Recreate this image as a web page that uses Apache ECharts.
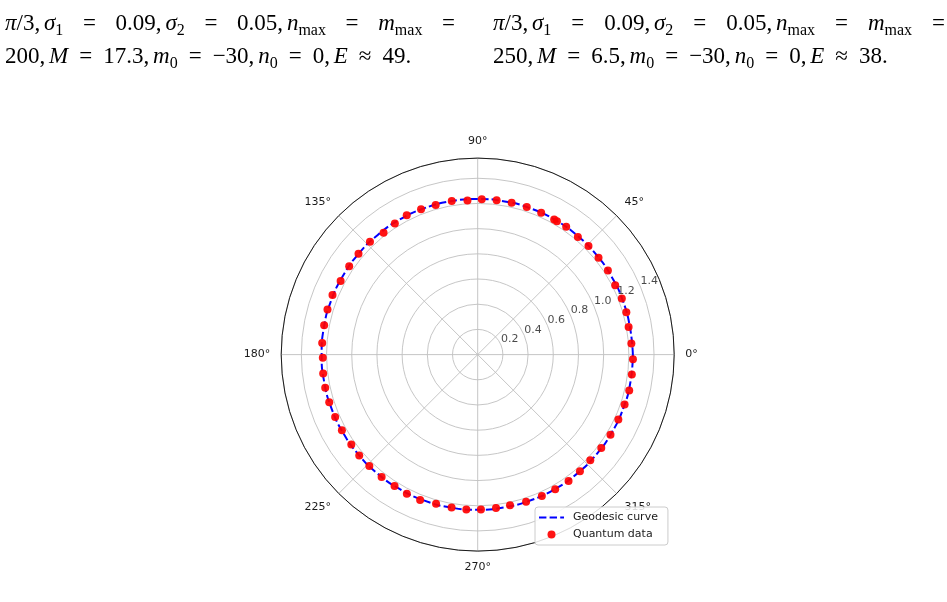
<!DOCTYPE html>
<html>
<head>
<meta charset="utf-8">
<script src="https://cdn.jsdelivr.net/npm/echarts@6/dist/echarts.min.js"></script>
<style>
html,body{margin:0;padding:0;background:#fff;}
#chart{width:947px;height:602px;}
</style>
</head>
<body>
<div id="chart"></div>
<script>
// ---------------- data ----------------
// Quantum data points: angle (degrees) and radius
const quantumAngles = [4.1,10.4,15.9,21.3,26.8,32.9,38.7,44.4,49.6,55.3,
  59.3,60.5,65.9,71.6,77.4,83.0,88.5,93.8,99.6,105.7,
  111.3,117.0,122.3,127.7,133.7,139.8,145.5,151.8,157.7,163.3,
  169.2,175.7,181.2,187.0,192.3,197.8,203.6,209.1,215.4,220.4,
  225.8,231.9,237.7,243.0,248.4,254.4,260.3,265.8,271.2,276.8,
  282.1,288.2,294.4,299.9,305.7,311.2,316.8,322.9,328.9,335.2,
  341.2,346.7,352.6,358.3];
const quantumRadii = [1.223,1.218,1.227,1.228,1.223,1.231,1.229,1.231,1.227,1.234,
  1.232,1.233,1.234,1.234,1.235,1.234,1.233,1.227,1.236,1.233,
  1.238,1.241,1.231,1.222,1.238,1.239,1.238,1.235,1.246,1.245,
  1.241,1.238,1.230,1.236,1.239,1.238,1.235,1.234,1.231,1.235,
  1.234,1.236,1.235,1.239,1.242,1.230,1.231,1.233,1.230,1.227,
  1.223,1.230,1.233,1.234,1.236,1.232,1.226,1.230,1.231,1.230,
  1.232,1.236,1.234,1.233];

// Geodesic curve samples: angle (degrees) and radius
const geoAngles = [0,10,20,30,40,50,60,70,80,90,100,110,120,130,140,150,160,170,180,
  190,200,210,220,230,240,250,260,270,280,290,300,310,320,330,340,350,360];
const geoRadii = [1.232,1.228,1.229,1.230,1.231,1.232,1.233,1.234,1.235,1.235,1.236,1.237,1.238,1.238,1.239,1.239,1.240,1.240,1.239,
  1.238,1.237,1.236,1.235,1.235,1.234,1.234,1.233,1.232,1.231,1.231,1.231,1.231,1.231,1.231,1.232,1.232,1.232];

// Axis ticks
const radialTicks = [0.2,0.4,0.6,0.8,1.0,1.2,1.4];
const radialLabelAngle = 22.5;
const angleTicks = [0,45,90,135,180,225,270,315];
const seriesNames = ['Geodesic curve','Quantum data'];

// ---------------- page text (paper excerpt) ----------------
const L1 = [['i','π'],['r','/3,'],['t'],['i','σ'],['s','1'],['q'],['r','='],['q'],['r','0.09,'],['t'],
  ['i','σ'],['s','2'],['q'],['r','='],['q'],['r','0.05,'],['t'],['i','n'],['s','max'],['q'],['r','='],['q'],
  ['i','m'],['s','max'],['q'],['r','=']];
const L2a = [['r','200,'],['t'],['i','M'],['q'],['r','='],['q'],['r','17.3,'],['t'],['i','m'],['s','0'],['q'],['r','='],['q'],
  ['r','−30,'],['t'],['i','n'],['s','0'],['q'],['r','='],['q'],['r','0,'],['t'],['i','E'],['q'],['r','≈'],['q'],['r','49.']];
const L2b = [['r','250,'],['t'],['i','M'],['q'],['r','='],['q'],['r','6.5,'],['t'],['i','m'],['s','0'],['q'],['r','='],['q'],
  ['r','−30,'],['t'],['i','n'],['s','0'],['q'],['r','='],['q'],['r','0,'],['t'],['i','E'],['q'],['r','≈'],['q'],['r','38.']];

const FS = 23, SFS = 16, SX = 1.0;
const FONTS = {
  r: FS + 'px "Liberation Serif"',
  i: 'italic ' + FS + 'px "Liberation Serif"',
  s: SFS + 'px "Liberation Serif"'
};
const THIN = FS*3/18;
const cv = document.createElement('canvas');
const cx = cv.getContext('2d');
function measure(font, t){ cx.font = font; return cx.measureText(t).width; }
function stats(toks){
  let glyph = 0, thin = 0, nRel = 0;
  toks.forEach(tk => {
    if (tk[0]==='t') thin += THIN;
    else if (tk[0]==='q') nRel++;
    else glyph += measure(FONTS[tk[0]], tk[1]) * SX;
  });
  return {glyph, thin, nRel};
}
function relFor(toks, width){
  const s = stats(toks);
  return Math.max(1.5, (width - s.glyph - s.thin) / s.nRel);
}
// natural relation space, taken from the last (unjustified) line
const REL_NAT = Math.min(relFor(L2a, 418), 11);

function layoutLine(toks, x0, relW, base){
  const els = [];
  let x = x0;
  toks.forEach(tk => {
    if (tk[0]==='t'){ x += THIN; return; }
    if (tk[0]==='q'){ x += relW; return; }
    const font = FONTS[tk[0]];
    const w = measure(font, tk[1]) * SX;
    const y = tk[0]==='s' ? base + 4 - SFS*0.34 : base - FS*0.34;
    els.push({type:'text', x:x, y:y, scaleX:SX, silent:true,
      style:{text:tk[1], font:font, fill:'#000', align:'left', verticalAlign:'middle'}});
    x += w;
  });
  return els;
}
const graphicEls = [].concat(
  layoutLine(L1, 5, relFor(L1, 450), 32),
  layoutLine(L2a, 5, REL_NAT, 65),
  layoutLine(L1, 493, relFor(L1, 452), 32),
  layoutLine(L2b, 493, REL_NAT, 65)
);

// ---------------- chart ----------------
const quantumData = quantumAngles.map((a,i) => [quantumRadii[i], a]);
const geoData = geoAngles.map((a,i) => [geoRadii[i], a]);
const labelData = radialTicks.map(r => [r, radialLabelAngle]);

const chart = echarts.init(document.getElementById('chart'), null, {renderer:'canvas'});
const TXT = {fontFamily:'DejaVu Sans', fontSize:11, color:'#1a1a1a'};

chart.setOption({
  animation:false,
  backgroundColor:'#fff',
  graphic: graphicEls,
  polar: {center:[477.7, 354.6], radius:196.5},
  angleAxis: {
    type:'value', min:0, max:360, interval:45, startAngle:0, clockwise:false,
    axisLine:{show:true, lineStyle:{color:'#1a1a1a', width:1}},
    axisTick:{show:false},
    axisLabel:{show:true, margin:11, fontFamily:TXT.fontFamily, fontSize:TXT.fontSize, color:TXT.color,
      formatter: v => (angleTicks.indexOf(v) >= 0 ? v + '°' : '')},
    splitLine:{show:true, lineStyle:{color:'#c0c0c0', width:0.9}}
  },
  radiusAxis: {
    type:'value', min:0, max:1.56, interval:0.2,
    axisLine:{show:false}, axisTick:{show:false}, axisLabel:{show:false},
    splitLine:{show:true, lineStyle:{color:'#c0c0c0', width:0.9}}
  },
  legend: {
    data: [{name:seriesNames[0], itemStyle:{opacity:0}}, {name:seriesNames[1]}],
    orient:'vertical', left:535, top:507,
    itemWidth:25, itemHeight:8, itemGap:6,
    padding:[5,10,5,3],
    backgroundColor:'rgba(255,255,255,0.85)', borderColor:'#cccccc', borderWidth:1, borderRadius:3,
    selectedMode:false,
    textStyle:{fontFamily:TXT.fontFamily, fontSize:TXT.fontSize, color:TXT.color, padding:[0,0,0,4]}
  },
  series: [
    {
      name:'radial labels', type:'scatter', coordinateSystem:'polar', z:1,
      data: labelData, symbolSize:0, silent:true,
      label:{show:true, position:[0,0], align:'left', verticalAlign:'bottom',
        fontFamily:TXT.fontFamily, fontSize:TXT.fontSize, color:TXT.color,
        formatter: p => p.value[0].toFixed(1)}
    },
    {
      name:seriesNames[0], type:'line', coordinateSystem:'polar', z:2,
      data: geoData, showSymbol:false, symbol:'none', smooth:true,
      lineStyle:{color:'#0000ff', width:2, type:[7.4,3.2]},
      itemStyle:{color:'#0000ff'}
    },
    {
      name:seriesNames[1], type:'scatter', coordinateSystem:'polar', z:3,
      data: quantumData, symbol:'circle', symbolSize:8,
      itemStyle:{color:'#ff0000', opacity:0.92}
    }
  ]
});
</script>
</body>
</html>
